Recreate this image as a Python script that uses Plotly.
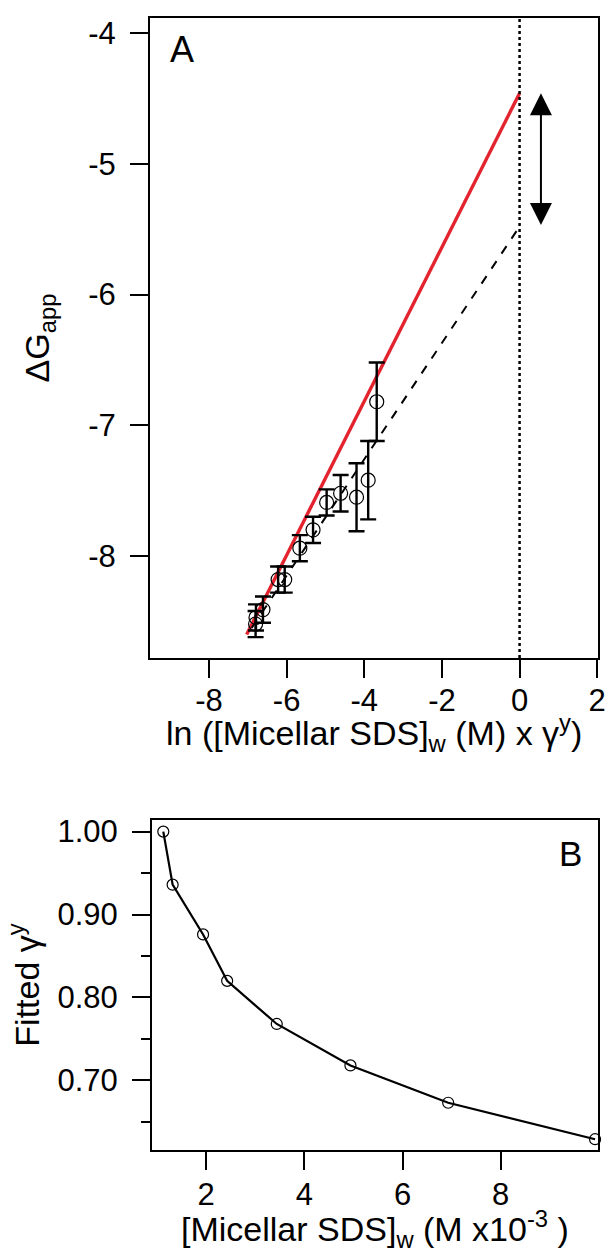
import plotly.graph_objects as go

# --- Panel A data: ln(micellar SDS * gamma) vs dG_app ---
ln_sds = [-6.80, -6.79, -6.61, -6.22, -6.05, -5.66, -5.32, -4.97, -4.61, -4.20, -3.90, -3.68]
dg_app = [-8.52, -8.47, -8.41, -8.18, -8.18, -7.94, -7.80, -7.59, -7.52, -7.55, -7.42, -6.82]
dg_err = [0.10, 0.10, 0.10, 0.10, 0.10, 0.10, 0.10, 0.10, 0.14, 0.26, 0.30, 0.30]

red_x = [-7.03, 0.0]
red_y = [-8.60, -4.46]
dash_x = [-6.90, 0.0]
dash_y = [-8.55, -5.48]

arrow_x = 0.55
arrow_top = -4.46
arrow_bottom = -5.48

# --- Panel B data: fitted gamma vs micellar SDS ---
sds_conc = [1.13, 1.32, 1.94, 2.43, 3.44, 4.94, 6.93, 9.92]
gamma_fit = [1.000, 0.936, 0.876, 0.820, 0.768, 0.718, 0.673, 0.629]

a_xticks = [-8, -6, -4, -2, 0, 2]
a_xticktext = ["-8", "-6", "-4", "-2", "0", "2"]
a_yticks = [-8, -7, -6, -5, -4]
a_yticktext = ["-8", "-7", "-6", "-5", "-4"]
b_xticks = [2, 4, 6, 8]
b_yticks = [0.70, 0.80, 0.90, 1.00]
b_yticktext = ["0.70", "0.80", "0.90", "1.00"]
b_yminor = [0.65, 0.75, 0.85, 0.95]

FONT = "Liberation Sans, Arial, Helvetica, sans-serif"
W, H = 610, 1248

fig = go.Figure()

# --- Panel A ---
fig.add_trace(go.Scatter(x=red_x, y=red_y, mode="lines",
                         line=dict(color="#e3242f", width=3.4),
                         xaxis="x", yaxis="y", showlegend=False))
fig.add_trace(go.Scatter(x=dash_x, y=dash_y, mode="lines",
                         line=dict(color="black", width=2, dash="dash"),
                         xaxis="x", yaxis="y", showlegend=False))
fig.add_trace(go.Scatter(x=ln_sds, y=dg_app, mode="markers",
                         marker=dict(symbol="circle-open", size=14, color="black",
                                     line=dict(width=1.2, color="black")),
                         error_y=dict(type="data", array=dg_err, color="black",
                                      thickness=2.4, width=8),
                         xaxis="x", yaxis="y", showlegend=False))

# --- Panel B ---
fig.add_trace(go.Scatter(x=sds_conc, y=gamma_fit, mode="lines+markers",
                         line=dict(color="black", width=2.2),
                         marker=dict(symbol="circle-open", size=11, color="black",
                                     line=dict(width=1.2, color="black")),
                         xaxis="x2", yaxis="y2", showlegend=False, cliponaxis=False))

# dotted line at x = 0 in panel A
fig.add_shape(type="line", xref="x", yref="y domain", x0=0, x1=0, y0=0, y1=1,
              line=dict(color="black", width=2.5, dash="dot"))

# double headed arrow
fig.add_annotation(x=arrow_x, y=arrow_top, ax=arrow_x, ay=arrow_bottom,
                   xref="x", yref="y", axref="x", ayref="y", text="",
                   showarrow=True, arrowhead=2, startarrowhead=2, arrowside="end+start",
                   arrowwidth=2, arrowsize=2.2, startarrowsize=2.2, arrowcolor="black")

fig.add_annotation(text="A", x=0.071, y=0.95, xref="x domain", yref="y domain",
                   showarrow=False, xanchor="center", yanchor="middle",
                   font=dict(size=36, color="black", family=FONT))
fig.add_annotation(text="B", x=0.939, y=0.897, xref="x2 domain", yref="y2 domain",
                   showarrow=False, xanchor="center", yanchor="middle",
                   font=dict(size=35, color="black", family=FONT))

# x axis titles placed by hand so they sit close under the tick labels
fig.add_annotation(text="ln ([Micellar SDS]<sub>w</sub> (M) x γ<sup>y</sup>)",
                   x=374 / W, y=(H - 733) / H, xref="paper", yref="paper",
                   showarrow=False, xanchor="center", yanchor="middle",
                   font=dict(size=34, color="black", family=FONT))
fig.add_annotation(text="[Micellar SDS]<sub>w</sub> (M x10<sup>-3</sup> )",
                   x=375 / W, y=(H - 1229) / H, xref="paper", yref="paper",
                   showarrow=False, xanchor="center", yanchor="middle",
                   font=dict(size=34, color="black", family=FONT))

axis_style = dict(showline=True, linecolor="black", linewidth=2, mirror=True,
                  ticks="outside", ticklen=18, tickwidth=2, tickcolor="black",
                  showgrid=False, zeroline=False, automargin=False,
                  tickfont=dict(size=31, color="black", family=FONT))

fig.update_layout(
    width=W, height=H,
    margin=dict(l=0, r=0, t=0, b=0),
    paper_bgcolor="white", plot_bgcolor="white",
    font=dict(family=FONT, color="black", size=31),
    xaxis=dict(domain=[150 / W, 598 / W], anchor="y", range=[-9.52, 2.02],
               tickvals=a_xticks, ticktext=a_xticktext, ticklabelstandoff=-4,
               **axis_style),
    yaxis=dict(domain=[(H - 658) / H, (H - 18) / H], anchor="x", range=[-8.78, -3.885],
               tickvals=a_yticks, ticktext=a_yticktext, ticklabelstandoff=8,
               title=dict(text="ΔG<sub>app</sub>", font=dict(size=34), standoff=28),
               **axis_style),
    xaxis2=dict(domain=[152 / W, 598 / W], anchor="y2", range=[0.9, 9.98],
                tickvals=b_xticks, ticklabelstandoff=-2,
                **axis_style),
    yaxis2=dict(domain=[(H - 1150) / H, (H - 820) / H], anchor="x2", range=[0.616, 1.014],
                tickvals=b_yticks, ticktext=b_yticktext, ticklabelstandoff=8,
                minor=dict(ticks="outside", ticklen=9, tickwidth=2, tickcolor="black",
                           tickvals=b_yminor),
                title=dict(text="Fitted γ<sup>y</sup>", font=dict(size=34), standoff=8),
                **axis_style),
)

fig.write_html("out.html", config={"displayModeBar": False},
               post_script="document.body.style.margin='0';")
